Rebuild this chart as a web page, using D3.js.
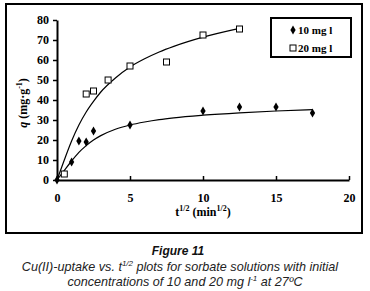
<!DOCTYPE html>
<html>
<head>
<meta charset="utf-8">
<script src="https://cdn.jsdelivr.net/npm/d3@7"></script>
<style>
  body { margin: 0; background: #fff; }
  svg { display: block; }
</style>
</head>
<body>
<div id="chart"></div>
<script>
// Data
const series10 = [
    { t: 0, q: 0 }, { t: 1, q: 9 }, { t: 1.5, q: 19.5 }, { t: 2, q: 19 },
    { t: 2.5, q: 24.5 }, { t: 5, q: 27.5 }, { t: 10, q: 34.5 },
    { t: 12.5, q: 36.5 }, { t: 15, q: 36.5 }, { t: 17.5, q: 33.5 }
];
const series20 = [
    { t: 0.5, q: 3 }, { t: 2, q: 43 }, { t: 2.5, q: 44.5 }, { t: 3.5, q: 50 },
    { t: 5, q: 57 }, { t: 7.5, q: 59 }, { t: 10, q: 72.5 }, { t: 12.5, q: 75.5 }
];
// Fitted trend curves
const fit10 = [
    { t: 0, q: 0 }, { t: 0.5, q: 4.8 }, { t: 1, q: 9.5 }, { t: 1.5, q: 13.8 },
    { t: 2, q: 17.2 }, { t: 2.5, q: 20 }, { t: 3, q: 22.2 }, { t: 4, q: 25.4 },
    { t: 5, q: 27.5 }, { t: 6, q: 29 }, { t: 7, q: 30.2 }, { t: 8, q: 31.1 },
    { t: 10, q: 32.4 }, { t: 12.5, q: 33.6 }, { t: 15, q: 34.5 }, { t: 17.5, q: 35.2 }
];
const fit20 = [
    { t: 0, q: 0 }, { t: 0.5, q: 10 }, { t: 1, q: 19.5 }, { t: 1.5, q: 27.5 },
    { t: 2, q: 34 }, { t: 2.5, q: 39.3 }, { t: 3, q: 44 }, { t: 4, q: 51 },
    { t: 5, q: 56.5 }, { t: 6, q: 60.6 }, { t: 7, q: 64 }, { t: 8, q: 66.8 },
    { t: 10, q: 71.4 }, { t: 12.5, q: 75.8 }
];
const xTicks = [0, 5, 10, 15, 20];
const yTicks = [0, 10, 20, 30, 40, 50, 60, 70, 80];
const legendLabels = ['10 mg l', '20 mg l'];

const width = 370, height = 291;
const serif = '"Liberation Serif", "Times New Roman", serif';
const sans = '"Liberation Sans", Arial, sans-serif';

const svg = d3.select('#chart').append('svg')
    .attr('width', width)
    .attr('height', height);

// outer frame
svg.append('rect')
    .attr('x', 6).attr('y', 4)
    .attr('width', 356).attr('height', 229)
    .attr('fill', 'none').attr('stroke', '#000').attr('stroke-width', 2);

const x = d3.scaleLinear().domain([0, 20]).range([57, 349]);
const y = d3.scaleLinear().domain([0, 80]).range([180, 20]);

// y axis
svg.append('g')
    .attr('transform', `translate(${x(0)},0)`)
    .call(d3.axisLeft(y).tickValues(yTicks).tickSize(4).tickSizeOuter(0).tickPadding(4))
    .call(g => g.select('.domain').attr('stroke-width', 2))
    .call(g => g.selectAll('.tick line').attr('stroke-width', 1.5))
    .call(g => g.selectAll('text')
        .attr('font-family', serif).attr('font-size', 12).attr('font-weight', 'bold')
        .attr('fill', '#000'));

// x axis, ticks point inward
svg.append('g')
    .attr('transform', `translate(0,${y(0)})`)
    .call(d3.axisBottom(x).tickValues(xTicks).tickSizeInner(-4).tickSizeOuter(0).tickPadding(13))
    .call(g => g.select('.domain').attr('stroke-width', 2))
    .call(g => g.selectAll('.tick line').attr('stroke-width', 1.5))
    .call(g => g.selectAll('text')
        .attr('font-family', serif).attr('font-size', 12).attr('font-weight', 'bold')
        .attr('fill', '#000'));

// axis titles
const xt = svg.append('text')
    .attr('x', x(10)).attr('y', 216)
    .attr('text-anchor', 'middle')
    .attr('font-family', serif).attr('font-size', 12).attr('font-weight', 'bold');
xt.append('tspan').text('t');
xt.append('tspan').attr('font-size', 8).attr('dy', -5).text('1/2');
xt.append('tspan').attr('dy', 5).text(' (min');
xt.append('tspan').attr('font-size', 8).attr('dy', -5).text('1/2');
xt.append('tspan').attr('dy', 5).text(')');

const yt = svg.append('text')
    .attr('transform', 'translate(27,103) rotate(-90)')
    .attr('text-anchor', 'middle')
    .attr('font-family', serif).attr('font-size', 12).attr('font-weight', 'bold');
yt.append('tspan').attr('font-style', 'italic').text('q');
yt.append('tspan').text(' (mg·g');
yt.append('tspan').attr('font-size', 8).attr('dy', -5).text('-1');
yt.append('tspan').attr('dy', 5).text(')');

// trend curves
const line = d3.line()
    .x(d => x(d.t))
    .y(d => y(d.q))
    .curve(d3.curveMonotoneX);

[fit10, fit20].forEach(fit => {
    svg.append('path')
        .attr('d', line(fit))
        .attr('fill', 'none')
        .attr('stroke', '#000')
        .attr('stroke-width', 1.2);
});

// markers
const diamond = d3.symbol().type(d3.symbolDiamond).size(24);
svg.append('g').selectAll('path')
    .data(series10)
    .join('path')
    .attr('transform', d => `translate(${x(d.t)},${y(d.q)})`)
    .attr('d', diamond)
    .attr('fill', '#000');

svg.append('g').selectAll('rect')
    .data(series20)
    .join('rect')
    .attr('x', d => x(d.t) - 3)
    .attr('y', d => y(d.q) - 3)
    .attr('width', 6).attr('height', 6)
    .attr('fill', '#fff')
    .attr('stroke', '#000')
    .attr('stroke-width', 1);

// legend
const legend = svg.append('g');
legend.append('rect')
    .attr('x', 271).attr('y', 18)
    .attr('width', 80).attr('height', 39)
    .attr('fill', '#fff').attr('stroke', '#000').attr('stroke-width', 2);

legendLabels.forEach((label, i) => {
    const cy = 30 + i * 18;
    if (i === 0) {
        legend.append('path')
            .attr('transform', `translate(293,${cy})`)
            .attr('d', diamond)
            .attr('fill', '#000');
    } else {
        legend.append('rect')
            .attr('x', 290).attr('y', cy - 3)
            .attr('width', 6).attr('height', 6)
            .attr('fill', '#fff').attr('stroke', '#000');
    }
    legend.append('text')
        .attr('x', 298).attr('y', cy + 4)
        .attr('font-family', serif).attr('font-size', 11).attr('font-weight', 'bold')
        .text(label);
});

// caption
svg.append('text')
    .attr('x', 178).attr('y', 255)
    .attr('text-anchor', 'middle')
    .attr('font-family', sans).attr('font-size', 12)
    .attr('font-weight', 'bold').attr('font-style', 'italic')
    .attr('fill', '#111')
    .text('Figure 11');

const cap1 = svg.append('text')
    .attr('x', 180).attr('y', 271)
    .attr('text-anchor', 'middle')
    .attr('font-family', sans).attr('font-size', 12.6).attr('font-style', 'italic')
    .attr('fill', '#222');
cap1.append('tspan').text('Cu(II)-uptake vs. t');
cap1.append('tspan').attr('font-size', 8).attr('dy', -5).text('1/2');
cap1.append('tspan').attr('dy', 5).text(' plots for sorbate solutions with initial');

const cap2 = svg.append('text')
    .attr('x', 185).attr('y', 286)
    .attr('text-anchor', 'middle')
    .attr('font-family', sans).attr('font-size', 12.6).attr('font-style', 'italic')
    .attr('fill', '#222');
cap2.append('tspan').text('concentrations of 10 and 20 mg l');
cap2.append('tspan').attr('font-size', 8).attr('dy', -5).text('-1');
cap2.append('tspan').attr('dy', 5).text(' at 27ºC');
</script>
</body>
</html>
